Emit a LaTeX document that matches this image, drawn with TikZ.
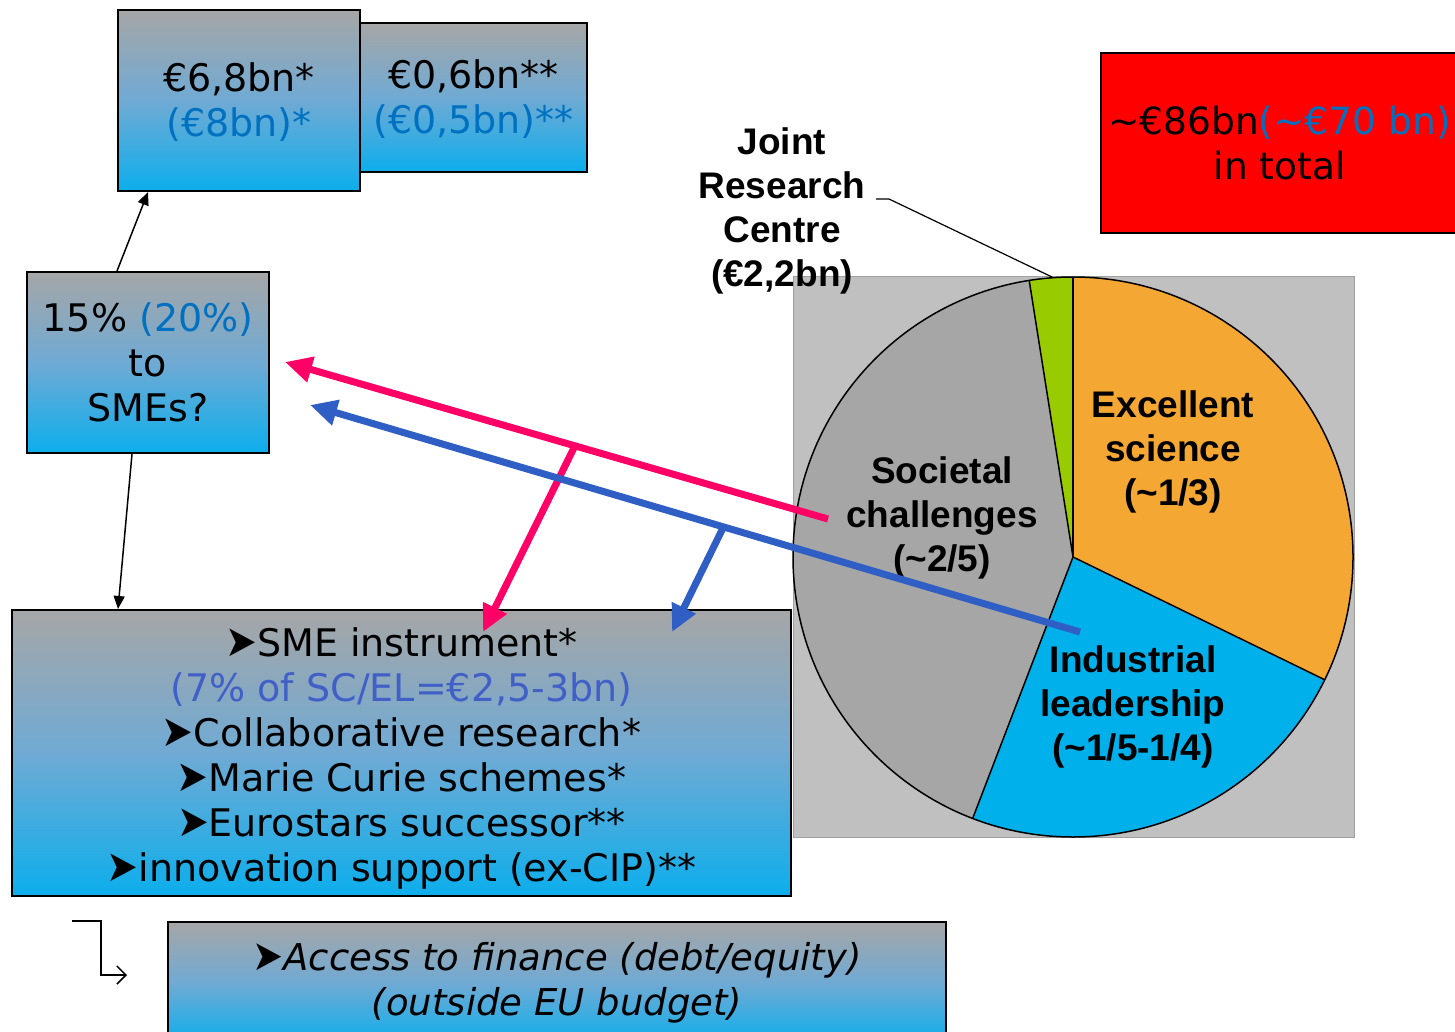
\documentclass[tikz,border=0pt]{standalone}
\usepackage{fontspec}
\setmainfont{DejaVu Sans}
\newfontfamily\arialf{Liberation Sans}
\usetikzlibrary{arrows.meta,calc}
\definecolor{gtop}{RGB}{166,166,166}
\definecolor{gmid}{RGB}{112,170,212}
\definecolor{gbot}{RGB}{12,174,236}
\definecolor{txtblue}{RGB}{0,112,192}
\definecolor{lineblue}{RGB}{64,96,200}
\definecolor{pinkc}{RGB}{255,0,102}
\definecolor{arrblue}{RGB}{47,94,196}
\definecolor{piebg}{RGB}{192,192,192}
\definecolor{piebgline}{RGB}{160,160,160}
\definecolor{piegray}{RGB}{166,166,166}
\definecolor{pieorange}{RGB}{245,167,51}
\definecolor{pieblue}{RGB}{0,176,234}
\definecolor{piegreen}{RGB}{153,204,0}
\newcommand{\arrbul}{\raisebox{0pt}{\scalebox{1.0}[1.15]{\upshape ➤}}}
\begin{document}
\begin{tikzpicture}[x=1pt,y=-1pt,
  gbox/.style={draw=black, line width=2pt, top color=gtop, bottom color=gbot, middle color=gmid,
    inner sep=0pt, anchor=north west, align=center, font=\fontsize{38}{45}\selectfont},
  redbox/.style={draw=black, line width=2pt, fill=red, inner sep=0pt, anchor=north west, align=center,
    font=\fontsize{37.5}{45}\selectfont},
  pielabel/.style={align=center, font=\arialf\bfseries\fontsize{37}{44}\selectfont, inner sep=0pt},
  blk/.style={draw=black, line width=1.5pt, -{Triangle[length=13pt,width=11pt]}},
  pinkarrow/.style={draw=pinkc, line width=7pt, -{Triangle[length=27pt,width=25pt]}},
  bluearrow/.style={draw=arrblue, line width=7pt, -{Triangle[length=27pt,width=25pt]}},
  slice/.style={draw=black, line width=1.5pt}
]
\useasboundingbox (0,0) rectangle (1455,1032);

% top boxes
\node[gbox, minimum width=227pt, minimum height=149pt] (b2) at (359,22)
  {\rule{0pt}{33pt}€0,6bn**\\\textcolor{txtblue}{(€0,5bn)**}};
\node[gbox, minimum width=242pt, minimum height=181pt] (b1) at (117,9)
  {\rule{0pt}{33pt}€6,8bn*\\\textcolor{txtblue}{(€8bn)*}};

% SME box
\node[gbox, minimum width=242pt, minimum height=181pt] (sme) at (26,271)
  {15\% \textcolor{txtblue}{(20\%)}\\to\\SMEs?};

% main box
\node[gbox, minimum width=779pt, minimum height=286pt] (main) at (11,609)
  {\rule{0pt}{40pt}\arrbul SME instrument*\\\textcolor{lineblue}{(7\% of SC/EL=€2,5-3bn)}\\\arrbul Collaborative research*\\\arrbul Marie Curie schemes*\\\arrbul Eurostars successor**\\\arrbul innovation support (ex-CIP)**};

% bottom box
\node[gbox, minimum width=778pt, minimum height=122pt, font=\fontsize{37}{45}\selectfont\itshape] (fin) at (167,921)
  {\arrbul Access to finance (debt/equity)\\(outside EU budget)};

% red box
\node[redbox, minimum width=357pt, minimum height=180pt] (total) at (1100,52)
  {\textasciitilde€86bn\textcolor{txtblue}{(\textasciitilde€70 bn)}\\in total};

% black arrows
\draw[blk] ($(sme.north west)+(91,0)$) -- ($(b1.south west)+(31,0)$);
\draw[blk] ($(sme.south west)+(106,0)$) -- ($(main.north west)+(107,0)$);

% bent arrow to finance box
\coordinate (bs) at (72,921);
\coordinate (be) at (127,975);
\draw[line width=1.5pt, -{Straight Barb[length=9pt,width=18pt]}] (bs) -- (101,921) |- (be);

% pie chart
\coordinate (pc) at (1073,557);
\fill[piebg, draw=piebgline, line width=1pt] (793,276) rectangle (1354,837);
\fill[pieorange] (pc) -- ++(-90:280) arc[start angle=-90,end angle=26,radius=280] -- cycle;
\fill[pieblue] (pc) -- ++(26:280) arc[start angle=26,end angle=111,radius=280] -- cycle;
\fill[piegray] (pc) -- ++(111:280) arc[start angle=111,end angle=261,radius=280] -- cycle;
\fill[piegreen] (pc) -- ++(261:280) arc[start angle=261,end angle=270,radius=280] -- cycle;
\draw[slice] (pc) circle[radius=280];
\draw[slice] (pc) -- ++(-90:280);
\draw[slice] (pc) -- ++(26:280);
\draw[slice] (pc) -- ++(111:280);
\draw[slice] (pc) -- ++(261:280);

% pie labels
\node[pielabel] (jrc) at (782,211) {Joint\\Research\\Centre\\(€2,2bn)};
\node[pielabel] (exc) at (1173,452) {Excellent\\science\\(\textasciitilde1/3)};
\node[pielabel] (soc) at (942,518) {Societal\\challenges\\(\textasciitilde2/5)};
\node[pielabel] (ind) at (1133,707) {Industrial\\leadership\\(\textasciitilde1/5-1/4)};

% JRC leader line
\coordinate (jl) at (876,199);
\coordinate (jp) at (1052,277);
\draw[line width=1.2pt] (jl) -- (889,199) -- (jp);

% pink and blue arrows
\coordinate (pS) at (828,519);
\coordinate (pE) at (285,362);
\coordinate (pT) at (483,632);
\coordinate (qS) at (1080,632);
\coordinate (qE) at (310,405);
\coordinate (qT) at (672,632);
\draw[pinkarrow] (pS) -- (pE);
\draw[pinkarrow] ($(pS)!0.466!(pE)$) -- (pT);
\draw[bluearrow] (qS) -- (qE);
\draw[bluearrow] ($(qS)!0.463!(qE)$) -- (qT);
\end{tikzpicture}
\end{document}
